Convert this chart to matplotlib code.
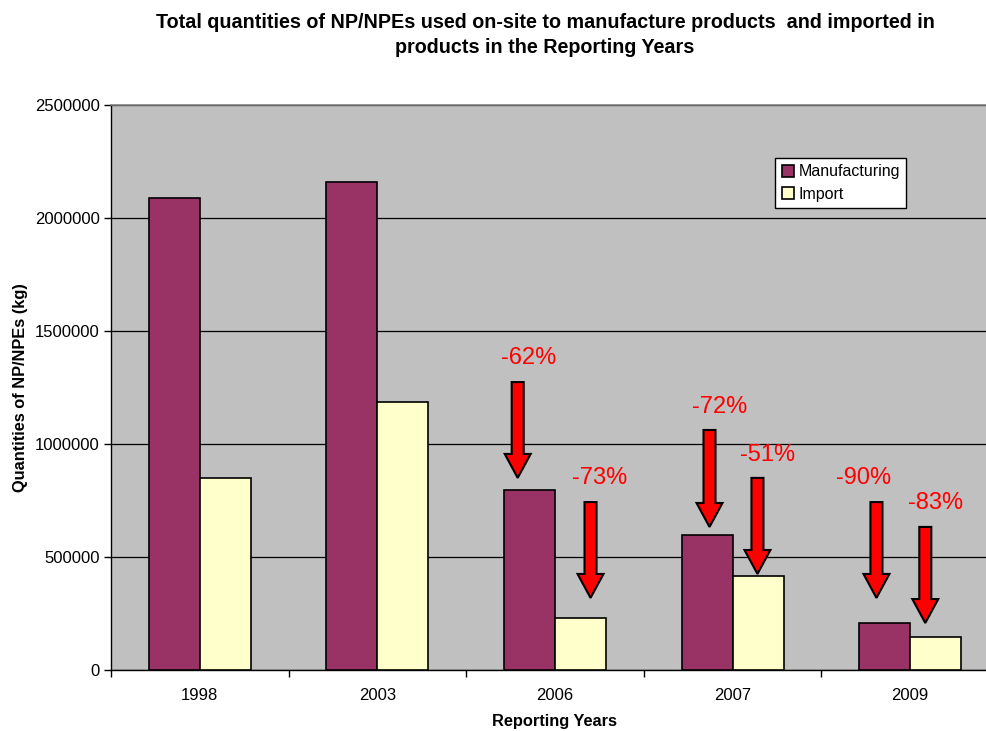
import numpy as np
import matplotlib
matplotlib.use('Agg')
import matplotlib.pyplot as plt

plt.rcParams['font.family'] = ['Liberation Sans', 'DejaVu Sans']

# данные
years = ['1998', '2003', '2006', '2007', '2009']
manufacturing = [2088000, 2159000, 796000, 597000, 208000]
imports = [850000, 1186000, 230000, 416000, 146000]

# подписи стрелок: текст, x стрелки, верх, остриё, x текста, y текста
pct_labels = ['-62%', '-73%', '-72%', '-51%', '-90%', '-83%']
arrow_x = [1.79, 2.20, 2.87, 3.14, 3.81, 4.085]
arrow_top = [1274000, 743000, 1062000, 850000, 743000, 633000]
arrow_tip = [850000, 319000, 633000, 425000, 319000, 208000]
label_x = [1.852, 2.252, 2.928, 3.198, 3.739, 4.144]
label_y = [1381000, 850000, 1164000, 951000, 850000, 739000]

fig = plt.figure(figsize=(9.87, 7.31), dpi=100)
ax = fig.add_axes([111 / 987, 61 / 731, 888 / 987, 565 / 731])
ax.set_facecolor('#C0C0C0')

x = np.arange(len(years))
w = 0.287
ax.bar(x - w / 2, manufacturing, w, color='#993366', edgecolor='black',
       linewidth=1.2, label='Manufacturing', zorder=3)
ax.bar(x + w / 2, imports, w, color='#FFFFCC', edgecolor='black',
       linewidth=1.2, label='Import', zorder=3)

ax.set_xlim(-0.5, 4.5)
ax.set_ylim(0, 2500000)
ax.set_yticks(np.arange(0, 2500001, 500000))
ax.set_yticklabels([str(v) for v in range(0, 2500001, 500000)])
ax.yaxis.grid(True, color='black', linewidth=0.9)
ax.set_axisbelow(True)

ax.set_xticks(x)
ax.set_xticklabels(years)
ax.set_xticks(np.arange(-0.5, 4.6, 1), minor=True)
ax.tick_params(axis='x', which='major', length=0, pad=13, labelsize=12)
ax.tick_params(axis='x', which='minor', length=5, width=1, direction='out')
ax.tick_params(axis='y', length=5, width=1, labelsize=12, pad=3)

for s in ['left', 'bottom']:
    ax.spines[s].set_color('black')
    ax.spines[s].set_linewidth(1)
ax.spines['top'].set_color('#808080')
ax.spines['top'].set_linewidth(1.2)
ax.spines['right'].set_visible(False)

# стрелки
for ax_, top, tip in zip(arrow_x, arrow_top, arrow_tip):
    hl = 106000
    ax.arrow(ax_, top, 0, tip - top + hl, width=0.0676, head_width=0.146,
             head_length=hl, length_includes_head=False, fc='red',
             ec='black', linewidth=1.5, zorder=4)
for t, lx, ly in zip(pct_labels, label_x, label_y):
    ax.text(lx, ly, t, color='red', fontsize=17, ha='center', va='center', zorder=5)

leg = ax.legend(loc='upper left', bbox_to_anchor=(0.748, 0.906), fancybox=False,
                edgecolor='black', framealpha=1, fontsize=11.5, handlelength=0.75,
                handleheight=0.75, handletextpad=0.3, borderpad=0.4,
                labelspacing=0.45, borderaxespad=0)
leg.get_frame().set_linewidth(1)

ax.set_ylabel('Quantities of NP/NPEs (kg)', fontsize=11.8, fontweight='bold', labelpad=5)
ax.set_xlabel('Reporting Years', fontsize=11.8, fontweight='bold', labelpad=8)
fig.text(545 / 987, 1 - 35 / 731,
         'Total quantities of NP/NPEs used on-site to manufacture products  and imported in\nproducts in the Reporting Years',
         ha='center', va='center', fontsize=14.2, fontweight='bold', linespacing=1.4)

fig.savefig('out.png', dpi=100)
